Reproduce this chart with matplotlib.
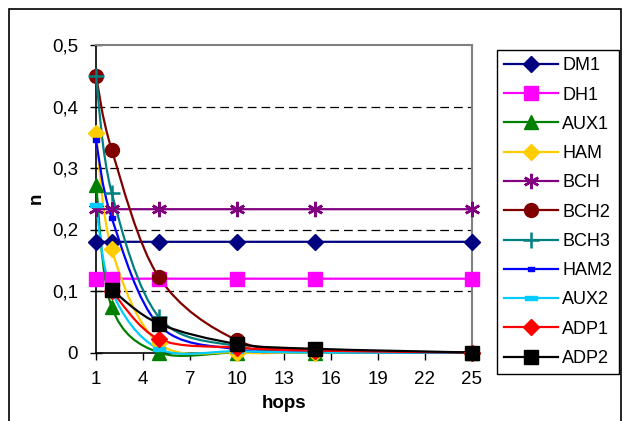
import numpy as np
import matplotlib
matplotlib.use("Agg")
import matplotlib.pyplot as plt
from matplotlib.path import Path
from matplotlib.patches import PathPatch, Rectangle
from matplotlib.lines import Line2D

plt.rcParams["font.family"] = ["Liberation Sans", "DejaVu Sans"]

# dados
hops = [1, 2, 5, 10, 15, 25]
series_names = ["DM1", "DH1", "AUX1", "HAM", "BCH", "BCH2", "BCH3", "HAM2", "AUX2", "ADP1", "ADP2"]
dm1 = [0.18, 0.18, 0.18, 0.18, 0.18, 0.18]
dh1 = [0.12, 0.12, 0.12, 0.12, 0.12, 0.12]
aux1 = [0.273, 0.074, 0.0, 0.0, 0.0, 0.0]
ham = [0.357, 0.168, 0.015, 0.0, 0.0, 0.0]
bch = [0.233, 0.233, 0.233, 0.233, 0.233, 0.233]
bch2 = [0.45, 0.33, 0.123, 0.02, 0.004, 0.0]
bch3 = [0.45, 0.26, 0.058, 0.01, 0.002, 0.0]
ham2 = [0.345, 0.219, 0.045, 0.005, 0.001, 0.0]
aux2 = [0.24, 0.1, 0.006, 0.002, 0.0, 0.0]
adp1 = [np.nan, 0.1, 0.022, 0.008, 0.003, 0.0]
adp2 = [np.nan, 0.102, 0.047, 0.014, 0.006, 0.0]
y_ticks = [0, 0.1, 0.2, 0.3, 0.4, 0.5]
y_ticklabels = ["0", "0,1", "0,2", "0,3", "0,4", "0,5"]
x_ticks = [1, 4, 7, 10, 13, 16, 19, 22, 25]

# marcadores personalizados (barrinhas horizontais)
bar_small = Path([(-1, -0.5), (1, -0.5), (1, 0.5), (-1, 0.5), (-1, -0.5)],
                 [Path.MOVETO, Path.LINETO, Path.LINETO, Path.LINETO, Path.CLOSEPOLY])
bar_big = Path([(-1, -0.3), (1, -0.3), (1, 0.3), (-1, 0.3), (-1, -0.3)],
               [Path.MOVETO, Path.LINETO, Path.LINETO, Path.LINETO, Path.CLOSEPOLY])

estilos = [
    (dm1, "#000080", "D", 8.5, 1),
    (dh1, "#FF00FF", "s", 9.5, 1),
    (aux1, "#008000", "^", 10, 1),
    (ham, "#FFCC00", "D", 8.5, 1),
    (bch, "#800080", (6, 2, 0), 11, 1.8),
    (bch2, "#800000", "o", 10, 1),
    (bch3, "#008080", "+", 11, 1.8),
    (ham2, "#0000FF", bar_small, 5, 1),
    (aux2, "#00CCFF", bar_big, 9, 1),
    (adp1, "#FF0000", "D", 8.5, 1),
    (adp2, "#000000", "s", 9.5, 1),
]


def curva_suave(xs, ys):
    # bezier estilo Excel (catmull-rom)
    pts = np.column_stack([xs, ys])
    verts = [tuple(pts[0])]
    codes = [Path.MOVETO]
    n = len(pts)
    for i in range(n - 1):
        p0 = pts[i - 1] if i > 0 else pts[i]
        p1 = pts[i]
        p2 = pts[i + 1]
        p3 = pts[i + 2] if i + 2 < n else pts[i + 1]
        c1 = p1 + (p2 - p0) / 6
        c2 = p2 - (p3 - p1) / 6
        verts += [tuple(c1), tuple(c2), tuple(p2)]
        codes += [Path.CURVE4] * 3
    return Path(verts, codes)


fig = plt.figure(figsize=(6.27, 4.21), dpi=100)
ax = fig.add_axes([96 / 627, 1 - 352.5 / 421, 376 / 627, 307.5 / 421])

handles = []
for (vals, cor, mk, ms, mew), nome in zip(estilos, series_names):
    x = np.array(hops, dtype=float)
    y = np.array(vals, dtype=float)
    ok = ~np.isnan(y)
    patch = PathPatch(curva_suave(x[ok], y[ok]), facecolor="none", edgecolor=cor,
                      lw=1.6, clip_on=False, zorder=3)
    ax.add_patch(patch)
    ax.plot(x[ok], y[ok], linestyle="none", marker=mk, markersize=ms, color=cor,
            markeredgecolor=cor, markeredgewidth=mew, clip_on=False, zorder=4)
    handles.append(Line2D([], [], color=cor, lw=1.6, marker=mk, markersize=ms,
                          markeredgecolor=cor, markeredgewidth=mew, label=nome))

ax.set_xlim(1, 25)
ax.set_ylim(0, 0.5)
ax.set_xticks(x_ticks)
ax.set_yticks(y_ticks)
ax.set_yticklabels(y_ticklabels)
ax.tick_params(axis="y", direction="inout", length=8, width=1, labelsize=13.5, pad=9)
ax.tick_params(axis="x", direction="out", length=5, width=1, labelsize=13.5, pad=8)
for yy in y_ticks[1:-1]:
    ax.axhline(yy, color="black", lw=0.9, dashes=(7, 4), zorder=1)
ax.spines["top"].set_color("#808080")
ax.spines["right"].set_color("#808080")
ax.spines["top"].set_linewidth(1.5)
ax.spines["right"].set_linewidth(1.5)
ax.spines["left"].set_linewidth(1.2)
ax.spines["bottom"].set_linewidth(1.2)
ax.set_xlabel("hops", fontsize=13.5, fontweight="bold", labelpad=5)
ax.set_ylabel("n", fontsize=13.5, fontweight="bold", labelpad=5)

leg = fig.legend(handles=handles, loc="upper left", bbox_to_anchor=(497 / 627, 1 - 50 / 421),
                 borderaxespad=0, fontsize=13, handlelength=3.0, labelspacing=0.68,
                 handletextpad=0.2, borderpad=0.4, fancybox=False, framealpha=1)
leg.get_frame().set_edgecolor("black")
leg.get_frame().set_linewidth(1)

# moldura externa
fig.patches.append(Rectangle((9 / 627, -0.01), 612 / 627, 1 - 9 / 421 + 0.01,
                             transform=fig.transFigure, fill=False, edgecolor="black", lw=1.2))

fig.savefig("out.png", dpi=100)
